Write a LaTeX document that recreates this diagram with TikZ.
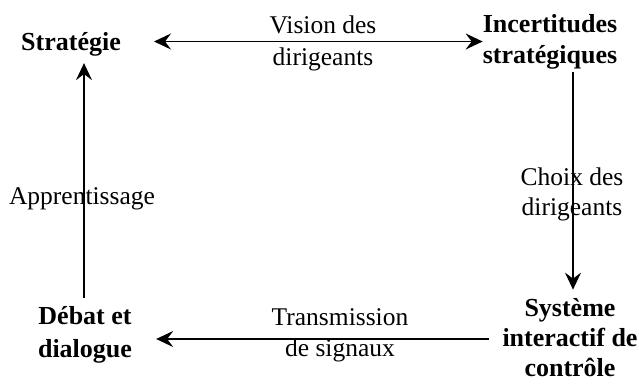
\documentclass[tikz,border=0pt]{standalone}
\usepackage{fontspec}
\setmainfont{Liberation Serif}
\usetikzlibrary{arrows.meta}
\begin{document}
\begin{tikzpicture}[x=1pt,y=-1pt,
  box/.style={font=\fontsize{26}{31}\selectfont\bfseries, align=center, inner sep=0pt},
  lbl/.style={font=\fontsize{25.5}{31}\selectfont, align=center, inner sep=0pt},
  tip/.style={Stealth[length=17pt,width=16pt,inset=6pt]},
  conn/.style={line width=1.3pt, -{Stealth[length=17pt,width=16pt,inset=6pt]}}]
  \useasboundingbox (0,0) rectangle (639,383);
  % the four stages of the cycle
  \node[box] (strat) at (71,44) {Stratégie};
  \node[box] (incert) at (550,41.5) {Incertitudes\\stratégiques};
  \node[box, font=\fontsize{26}{30}\selectfont\bfseries] (sys) at (570,338) {Système\\interactif de\\contrôle};
  \node[box, font=\fontsize{26}{33}\selectfont\bfseries] (debat) at (85,335.3) {Débat et\\dialogue};
  % labels of the links
  \node[lbl, font=\fontsize{25.5}{32}\selectfont] (vision) at (323,43.1) {Vision des\\dirigeants};
  \node[lbl, font=\fontsize{25.5}{30}\selectfont] (choix) at (572,194.1) {Choix des\\dirigeants};
  \node[lbl] (trans) at (340,335.6) {Transmission\\de signaux};
  \node[lbl] (appr) at (82,199) {Apprentissage};
  % links
  \draw[line width=1.8pt, {Stealth[length=17pt,width=16pt,inset=6pt]}-{Stealth[length=17pt,width=16pt,inset=6pt]}, shorten <=33pt]
    (strat.east |- 0,41.5) -- (incert.west |- 0,41.5);
  \draw[conn, shorten <=3pt, shorten >=9pt] (incert.south -| 573,0) -- (sys.north -| 573,0);
  \draw[conn, line width=1.8pt, shorten <=13pt, shorten >=24pt] (sys.west |- 0,339) -- (debat.east |- 0,339);
  \draw[conn, shorten <=9pt, shorten >=7pt] (debat.north -| 84,0) -- (strat.south -| 84,0);
\end{tikzpicture}
\end{document}
